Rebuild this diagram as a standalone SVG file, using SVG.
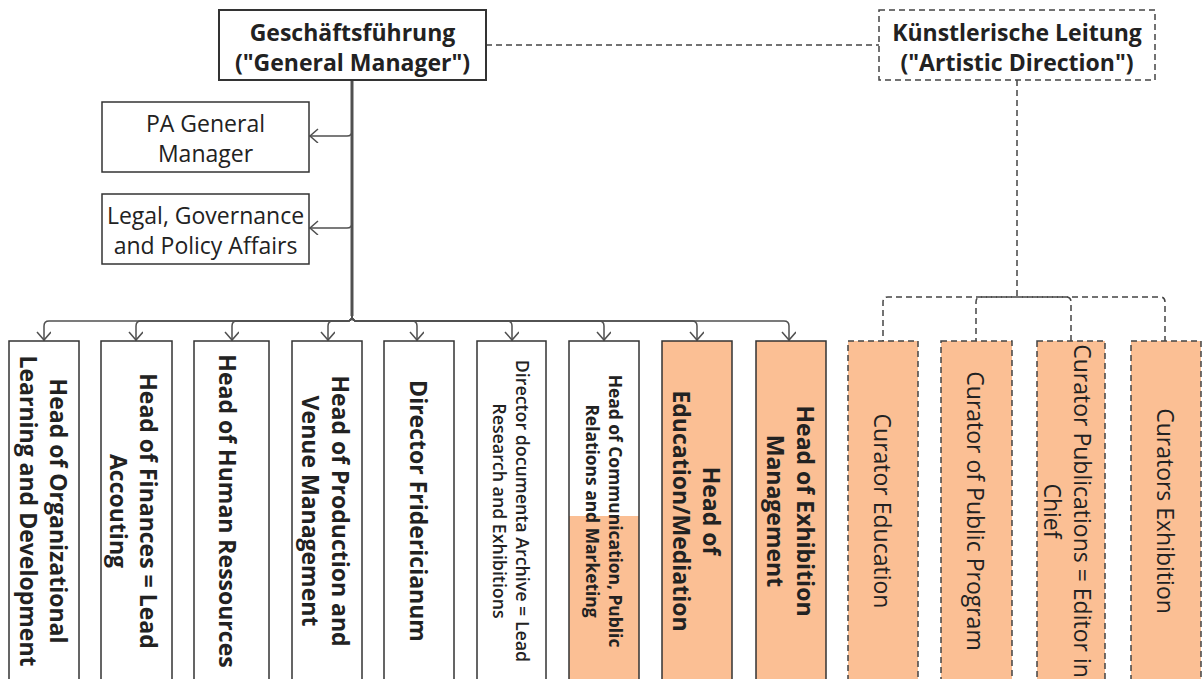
<svg xmlns="http://www.w3.org/2000/svg" width="1203" height="679" viewBox="0 0 1203 679">
<style>
text{font-family:"Open Sans","Liberation Sans",sans-serif;fill:#222;text-anchor:middle;dominant-baseline:central}
.b{font-weight:700}
.box{fill:#fff;stroke:#333;stroke-width:1.5}
.pk{fill:#FBBF94;stroke:#333;stroke-width:1.5}
.dpk{fill:#FBBF94;stroke:#444;stroke-width:1.5;stroke-dasharray:6 4}
.con{fill:none;stroke:#505050;stroke-width:1.5}
.dcon{fill:none;stroke:#444;stroke-width:1.5;stroke-dasharray:6 4}
</style>
<defs>
<marker id="arr" markerUnits="userSpaceOnUse" markerWidth="16" markerHeight="16" refX="9" refY="7" orient="auto" viewBox="0 0 16 16">
<path d="M1,0 L9,7 L1,14" fill="none" stroke="#505050" stroke-width="1.5"/>
</marker>
</defs>
<g id="connectors">
<path class="con" style="stroke-width:3" d="M352,80 V316"/>
<path class="con" d="M352,80 V131 Q352,136 347,136 H310" marker-end="url(#arr)"/>
<path class="con" d="M352,80 V223 Q352,228 347,228 H310" marker-end="url(#arr)"/>
<path class="con" d="M352,80 V316 Q352,321 347,321 H49 Q44,321 44,326 V340" marker-end="url(#arr)"/>
<path class="con" d="M352,80 V316 Q352,321 347,321 H141 Q136,321 136,326 V340" marker-end="url(#arr)"/>
<path class="con" d="M352,80 V316 Q352,321 347,321 H237 Q232,321 232,326 V340" marker-end="url(#arr)"/>
<path class="con" d="M352,80 V316 Q352,321 347,321 H333 Q328,321 328,326 V340" marker-end="url(#arr)"/>
<path class="con" d="M352,80 V316 Q352,321 357,321 H412 Q417,321 417,326 V340" marker-end="url(#arr)"/>
<path class="con" d="M352,80 V316 Q352,321 357,321 H507 Q512,321 512,326 V340" marker-end="url(#arr)"/>
<path class="con" d="M352,80 V316 Q352,321 357,321 H599 Q604,321 604,326 V340" marker-end="url(#arr)"/>
<path class="con" d="M352,80 V316 Q352,321 357,321 H692 Q697,321 697,326 V340" marker-end="url(#arr)"/>
<path class="con" d="M352,80 V316 Q352,321 357,321 H784 Q789,321 789,326 V340" marker-end="url(#arr)"/>
<path class="dcon" d="M486,45 H879"/>
<path class="dcon" d="M1017,80 V297"/>
<path class="dcon" d="M1012,297 H888 Q883,297 883,302 V341"/>
<path class="dcon" d="M1017,297 H981 Q976,297 976,302 V341"/>
<path class="dcon" d="M1017,297 H1066 Q1071,297 1071,302 V341"/>
<path class="dcon" d="M1022,297 H1160 Q1165,297 1165,302 V341"/>
</g>
<g id="gm">
<rect class="box" x="219" y="10" width="267" height="70" style="stroke-width:2"/>
<text class="b" x="352.5" y="32" font-size="23">Geschäftsführung</text>
<text class="b" x="352.5" y="62" font-size="23">("General Manager")</text>
</g>
<g id="ad">
<rect x="879" y="10" width="276" height="70" fill="#fff" stroke="#444" stroke-width="1.5" stroke-dasharray="6 4"/>
<text class="b" x="1017" y="32" font-size="23">Künstlerische Leitung</text>
<text class="b" x="1017" y="62" font-size="23">("Artistic Direction")</text>
</g>
<g id="pa">
<rect class="box" x="102" y="102" width="207" height="70"/>
<text x="205.5" y="123" font-size="23">PA General</text>
<text x="205.5" y="153" font-size="23">Manager</text>
</g>
<g id="legal">
<rect class="box" x="102" y="194" width="207" height="70"/>
<text x="205.5" y="215" font-size="23">Legal, Governance</text>
<text x="205.5" y="245" font-size="23">and Policy Affairs</text>
</g>
<g id="n1">
<rect class="box" x="9" y="341" width="70" height="340"/>
<text class="b" font-size="23" transform="translate(44,511) rotate(90)"><tspan x="0" y="-15">Head of Organizational</tspan><tspan x="0" y="15">Learning and Development</tspan></text>
</g>
<g id="n2">
<rect class="box" x="101" y="341" width="71" height="340"/>
<text class="b" font-size="23" transform="translate(134,511) rotate(90)"><tspan x="0" y="-15">Head of Finances = Lead</tspan><tspan x="0" y="15">Accouting</tspan></text>
</g>
<g id="n3">
<rect class="box" x="194" y="341" width="75" height="340"/>
<text class="b" font-size="23" transform="translate(228,511) rotate(90)">Head of Human Ressources</text>
</g>
<g id="n4">
<rect class="box" x="292" y="341" width="70" height="340"/>
<text class="b" font-size="23" transform="translate(326,511) rotate(90)"><tspan x="0" y="-15">Head of Production and</tspan><tspan x="0" y="15">Venue Management</tspan></text>
</g>
<g id="n5">
<rect class="box" x="384" y="341" width="70" height="340"/>
<text class="b" font-size="23" transform="translate(419,511) rotate(90)">Director Fridericianum</text>
</g>
<g id="n6">
<rect class="box" x="477" y="341" width="69" height="340"/>
<text font-size="17.8" font-weight="600" transform="translate(511,511) rotate(90)"><tspan x="0" y="-11.5">Director documenta Archive = Lead</tspan><tspan x="0" y="11.5">Research and Exhibitions</tspan></text>
</g>
<g id="n7">
<rect x="569" y="516" width="70" height="165" fill="#FBBF94"/>
<rect x="569" y="341" width="70" height="340" fill="none" stroke="#333" stroke-width="1.5"/>
<text class="b" font-size="17.4" transform="translate(604,511) rotate(90)"><tspan x="0" y="-11.5">Head of Communication, Public</tspan><tspan x="0" y="11.5">Relations and Marketing</tspan></text>
</g>
<g id="n8">
<rect class="pk" x="662" y="341" width="70" height="340"/>
<text class="b" font-size="23" transform="translate(697,511) rotate(90)"><tspan x="0" y="-15">Head of</tspan><tspan x="0" y="15">Education/Mediation</tspan></text>
</g>
<g id="n9">
<rect class="pk" x="756" y="341" width="70" height="340"/>
<text class="b" font-size="23" transform="translate(791,511) rotate(90)"><tspan x="0" y="-15">Head of Exhibition</tspan><tspan x="0" y="15">Management</tspan></text>
</g>
<g id="c1">
<rect class="dpk" x="848" y="341" width="70" height="340"/>
<text font-size="23" transform="translate(883,511) rotate(90)">Curator Education</text>
</g>
<g id="c2">
<rect class="dpk" x="941" y="341" width="71" height="340"/>
<text font-size="23" transform="translate(976,511) rotate(90)">Curator of Public Program</text>
</g>
<g id="c3">
<rect class="dpk" x="1037" y="341" width="68" height="340"/>
<text font-size="23" transform="translate(1068,511) rotate(90)"><tspan x="0" y="-15">Curator Publications = Editor in</tspan><tspan x="0" y="15">Chief</tspan></text>
</g>
<g id="c4">
<rect class="dpk" x="1131" y="341" width="70" height="340"/>
<text font-size="23" transform="translate(1166,511) rotate(90)">Curators Exhibition</text>
</g>
</svg>
